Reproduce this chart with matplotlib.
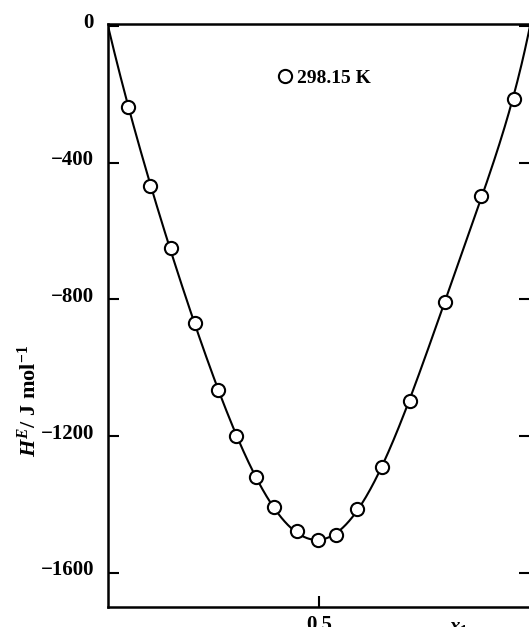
import numpy as np
import matplotlib
matplotlib.use("Agg")
import matplotlib.pyplot as plt
from matplotlib.transforms import ScaledTranslation

# data
x1 = [0.048, 0.100, 0.150, 0.205, 0.260, 0.303, 0.350, 0.394, 0.447, 0.497,
      0.540, 0.590, 0.649, 0.715, 0.798, 0.884, 0.961]
HE = [-238, -468, -650, -868, -1065, -1200, -1319, -1408, -1477, -1504,
      -1489, -1413, -1290, -1096, -808, -497, -214]
yticks = [0, -400, -800, -1200, -1600]
ytick_labels = ["0", "\u2212400", "\u2212800", "\u22121200", "\u22121600"]
xticks = [0.5]
xtick_labels = ["0.5"]
legend_label = "298.15 K"

plt.rcParams['font.family'] = ['Liberation Serif', 'DejaVu Serif']
plt.rcParams['mathtext.fontset'] = 'custom'
plt.rcParams['mathtext.rm'] = 'Liberation Serif:bold'
plt.rcParams['mathtext.it'] = 'Liberation Serif:bold:italic'
plt.rcParams['mathtext.bf'] = 'Liberation Serif:bold'

W, H = 529, 627
fig = plt.figure(figsize=(W / 100, H / 100), dpi=100)
left, right, top, bottom = 108, 530, 23.6, 607
ax = fig.add_axes([left / W, 1 - bottom / H, (right - left) / W, (bottom - top) / H])

# Redlich-Kister fit of the data
xa = np.array(x1)
ya = np.array(HE, dtype=float)
nterms = 6
A = np.column_stack([xa * (1 - xa) * (2 * xa - 1) ** k for k in range(nterms)])
coef, *_ = np.linalg.lstsq(A, ya, rcond=None)
xf = np.linspace(0, 1, 400)
yf = sum(c * xf * (1 - xf) * (2 * xf - 1) ** k for k, c in enumerate(coef))
ax.plot(xf, yf, color='black', lw=1.5, zorder=2)
ax.plot(x1, HE, 'o', ms=9.5, mfc='white', mec='black', mew=1.5,
        linestyle='none', zorder=3, label=legend_label)

ax.set_xlim(0, 1)
ax.set_ylim(-1700, 7)

for s in ax.spines.values():
    s.set_linewidth(1.8)

ax.set_yticks(yticks)
ax.set_yticklabels(ytick_labels)
ax.set_xticks(xticks)
ax.set_xticklabels(xtick_labels)
ax.tick_params(axis='both', direction='in', length=8, width=1.5,
               labelsize=15, pad=10)
ax.tick_params(axis='y', right=True, labelright=False)
for lab in ax.get_yticklabels():
    lab.set_fontweight('bold')
    lab.set_transform(lab.get_transform() + ScaledTranslation(0, 5 / 100, fig.dpi_scale_trans))
for lab in ax.get_xticklabels():
    lab.set_fontweight('bold')
ax.tick_params(axis='x', pad=6)

ax.set_ylabel(r"$H^{E}$/ J mol$^{-1}$", fontsize=16, fontweight='bold')
ax.yaxis.set_label_coords(-0.16, 0.353)
ax.text(0.83, -0.019, r"$x_1$", transform=ax.transAxes, fontsize=15,
        ha='center', va='top')

leg = ax.legend(loc='center left', bbox_to_anchor=(0.405, 0.907), frameon=False,
                handlelength=0.6, handletextpad=0.35, borderpad=0, borderaxespad=0,
                numpoints=1, prop={'family': 'Liberation Serif', 'weight': 'bold', 'size': 14})

fig.savefig("out.png", dpi=100)
